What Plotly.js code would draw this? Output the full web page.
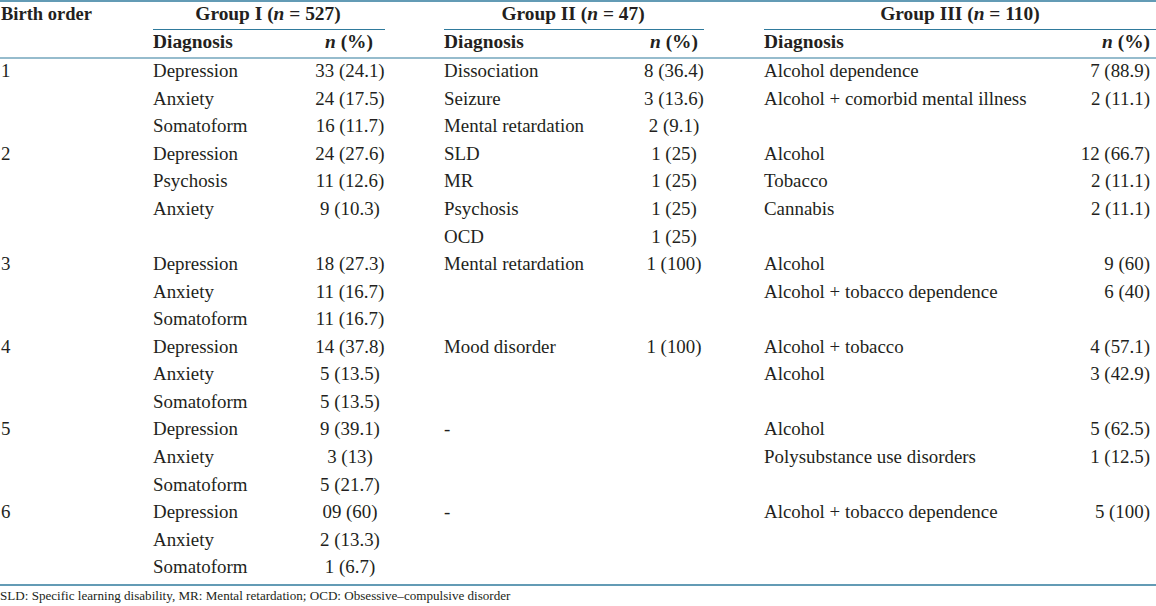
<!DOCTYPE html>
<html>
<head>
<meta charset="utf-8">
<script src="https://cdn.plot.ly/plotly-3.0.1.min.js"></script>
<style>html,body{margin:0;padding:0;background:#fff}#chart{width:1156px;height:606px}</style>
</head>
<body>
<div id="chart"></div>
<script>
// ---- data ----
const birthOrder = ['1','','','2','','','','3','','','4','','','5','','','6','',''];
const g1Diag = ['Depression','Anxiety','Somatoform','Depression','Psychosis','Anxiety','','Depression','Anxiety','Somatoform','Depression','Anxiety','Somatoform','Depression','Anxiety','Somatoform','Depression','Anxiety','Somatoform'];
const g1N = ['33 (24.1)','24 (17.5)','16 (11.7)','24 (27.6)','11 (12.6)','9 (10.3)','','18 (27.3)','11 (16.7)','11 (16.7)','14 (37.8)','5 (13.5)','5 (13.5)','9 (39.1)','3 (13)','5 (21.7)','09 (60)','2 (13.3)','1 (6.7)'];
const g2Diag = ['Dissociation','Seizure','Mental retardation','SLD','MR','Psychosis','OCD','Mental retardation','','','Mood disorder','','','-','','','-','',''];
const g2N = ['8 (36.4)','3 (13.6)','2 (9.1)','1 (25)','1 (25)','1 (25)','1 (25)','1 (100)','','','1 (100)','','','','','','','',''];
const g3Diag = ['Alcohol dependence','Alcohol + comorbid mental illness','','Alcohol','Tobacco','Cannabis','','Alcohol','Alcohol + tobacco dependence','','Alcohol + tobacco','Alcohol','','Alcohol','Polysubstance use disorders','','Alcohol + tobacco dependence','',''];
const g3N = ['7 (88.9)','2 (11.1)','','12 (66.7)','2 (11.1)','2 (11.1)','','9 (60)','6 (40)','','4 (57.1)','3 (42.9)','','5 (62.5)','1 (12.5)','','5 (100)','',''];
const groupTitles = ['Group I (<i>n</i> = 527)','Group II (<i>n</i> = 47)','Group III (<i>n</i> = 110)'];
const colHeaders = ['Diagnosis','<i>n</i> (%)'];
const stubHeader = 'Birth order';
const footnote = 'SLD: Specific learning disability, MR: Mental retardation; OCD: Obsessive\u2013compulsive disorder';

// ---- layout helpers ----
const FONT = 'Liberation Serif, Times New Roman, serif';
const TXT = '#231f20';
const LINE = '#2f7a9c';
const FS = 18.9;
const HFS = 19.4;
const rowTop = 72.5, rowH = 27.56;
const rowY = birthOrder.map((_, i) => rowTop + i * rowH);

function textTrace(xs, ys, texts, pos, opts) {
  opts = opts || {};
  return {
    type: 'scatter', mode: 'text', x: xs, y: ys, text: texts,
    textposition: pos, hoverinfo: 'skip', showlegend: false, cliponaxis: false,
    textfont: {family: FONT, size: opts.size || FS, color: TXT, weight: opts.bold ? 'bold' : 'normal'}
  };
}
const col = (x) => rowY.map(() => x);

const traces = [
  textTrace(col(1), rowY, birthOrder, 'middle right'),
  textTrace(col(153), rowY, g1Diag, 'middle right'),
  textTrace(col(350), rowY, g1N, 'middle center'),
  textTrace(col(444), rowY, g2Diag, 'middle right'),
  textTrace(col(674), rowY, g2N, 'middle center'),
  textTrace(col(764), rowY, g3Diag, 'middle right'),
  textTrace(col(1150), rowY, g3N, 'middle left'),
  // headers
  textTrace([1], [15], [stubHeader], 'middle right', {bold: true, size: 18.5}),
  textTrace([268, 573, 960], [15, 15, 15], groupTitles, 'middle center', {bold: true, size: HFS}),
  textTrace([153, 444, 764], [43, 43, 43], [colHeaders[0], colHeaders[0], colHeaders[0]], 'middle right', {bold: true, size: HFS}),
  textTrace([349, 674], [43, 43], [colHeaders[1], colHeaders[1]], 'middle center', {bold: true, size: HFS}),
  textTrace([1150], [43], [colHeaders[1]], 'middle left', {bold: true, size: HFS}),
  textTrace([0], [597], [footnote], 'middle right', {size: 13.1})
];

const hl = (x0, x1, y, w) => ({type: 'line', xref: 'x', yref: 'y', x0: x0, x1: x1, y0: y, y1: y, line: {color: LINE, width: w || 1.2}});
const shapes = [
  hl(0, 1156, 1, 1.6),
  hl(153, 385, 29.5), hl(444, 704, 29.5), hl(764, 1156, 29.5),
  hl(0, 1156, 58),
  hl(0, 1156, 585, 1.3)
];

const layout = {
  width: 1156, height: 606,
  margin: {l: 0, r: 0, t: 0, b: 0},
  paper_bgcolor: '#ffffff', plot_bgcolor: '#ffffff',
  xaxis: {range: [0, 1156], visible: false, fixedrange: true},
  yaxis: {range: [606, 0], visible: false, fixedrange: true},
  shapes: shapes,
  showlegend: false
};
Plotly.newPlot('chart', traces, layout, {staticPlot: true, displayModeBar: false});
</script>
</body>
</html>
